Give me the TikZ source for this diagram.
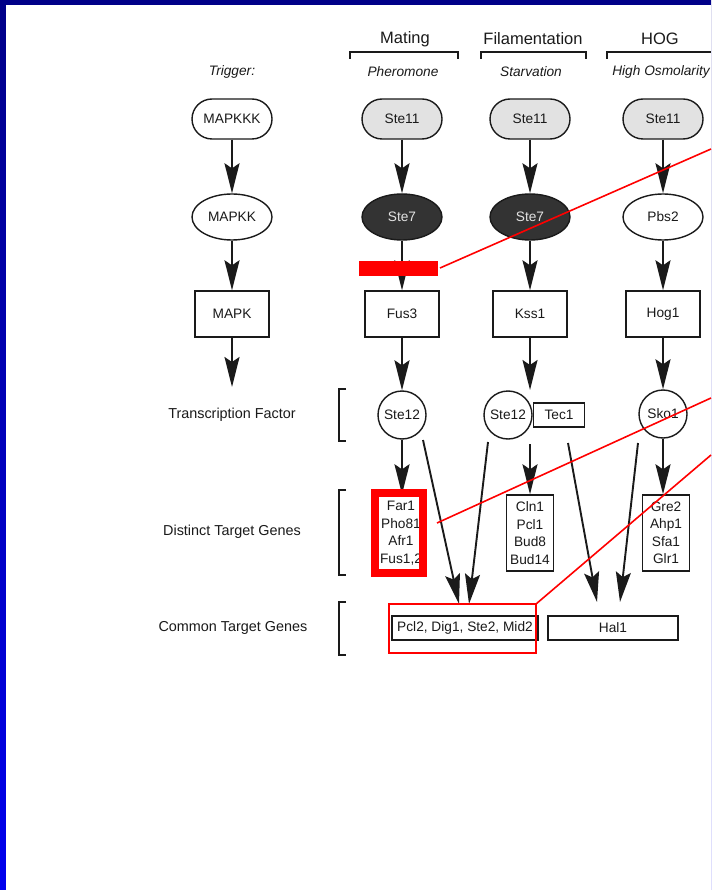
\documentclass[tikz,border=0pt]{standalone}
\usepackage{fontspec}
\setmainfont{Liberation Sans}
\usetikzlibrary{shapes.geometric,arrows.meta}
\definecolor{bordtop}{HTML}{000088}
\definecolor{bordbot}{HTML}{0000EE}
\definecolor{ink}{HTML}{1A1A1A}
\definecolor{lgray}{HTML}{E2E2E2}
\definecolor{dgray}{HTML}{333333}
\definecolor{redmark}{HTML}{FF0000}
\tikzset{
  hdr/.style={font=\fontsize{16.5}{19}\selectfont, text=ink, inner sep=0},
  trig/.style={font=\fontsize{13.7}{16}\selectfont\itshape, text=ink, inner sep=0},
  rowlab/.style={font=\fontsize{14.4}{16}\selectfont, text=ink, inner sep=0},
  nd/.style={draw=ink, line width=1.4pt, font=\fontsize{13.7}{16}\selectfont, text=ink, inner sep=0},
  stad/.style={nd, rectangle, rounded corners=20pt, minimum width=80pt, minimum height=40pt},
  ell/.style={nd, ellipse, minimum width=80pt, minimum height=46pt},
  kbox/.style={nd, rectangle, minimum width=74pt, minimum height=46pt},
  circ/.style={nd, circle, minimum size=48pt},
  gbox/.style={nd, rectangle, minimum width=47pt, minimum height=76pt, align=center, font=\fontsize{13.7}{17.5}\selectfont},
  wbox/.style={nd, rectangle, minimum height=24pt},
  arr/.style={draw=ink, line width=1.9pt, -{Stealth[length=30pt,width=15pt,inset=5pt]}},
  brk/.style={draw=ink, line width=1.6pt},
  redline/.style={draw=redmark, line width=1.6pt}
}
\begin{document}
\begin{tikzpicture}[x=1pt,y=-1pt]
\useasboundingbox (0,0) rectangle (711,890);
\shade[top color=bordtop, bottom color=bordbot] (0,0) rectangle (711,890);
\fill[white] (6,5) rectangle (711,890);

% headers
\node[hdr] (hmat) at (405,39) {Mating};
\node[hdr] (hfil) at (533,39) {Filamentation};
\node[hdr] (hhog) at (660,39) {HOG};
\draw[brk] (350,59) -- (350,52) -- (458,52) -- (458,59);
\draw[brk] (481,59) -- (481,52) -- (586,52) -- (586,59);
\draw[brk] (607,59) -- (607,52) -- (711,52);

\node[trig] (ttrig) at (232,72) {Trigger:};
\node[trig] (tmat) at (403,72) {Pheromone};
\node[trig] (tfil) at (531,72) {Starvation};
\node[trig] (thog) at (661,72) {High Osmolarity};

% MAPKKK row
\node[stad] (kkk0) at (232,119) {MAPKKK};
\node[stad, fill=lgray] (s11m) at (402,119) {Ste11};
\node[stad, fill=lgray] (s11f) at (530,119) {Ste11};
\node[stad, fill=lgray] (s11h) at (663,119) {Ste11};

% MAPKK row
\node[ell] (kk0) at (232,217) {MAPKK};
\node[ell, fill=dgray, text=lgray] (s7m) at (402,217) {Ste7};
\node[ell, fill=dgray, text=lgray] (s7f) at (530,217) {Ste7};
\node[ell] (pbs2) at (663,217) {Pbs2};

% MAPK row
\node[kbox] (k0) at (232,314) {MAPK};
\node[kbox] (fus3) at (402,314) {Fus3};
\node[kbox] (kss1) at (530,314) {Kss1};
\node[kbox] (hog1) at (663,314) {Hog1};

% transcription factors
\node[rowlab] (ltf) at (232,415) {Transcription Factor};
\node[circ] (ste12m) at (402,415) {Ste12};
\node[circ] (ste12f) at (508,415) {Ste12};
\node[nd, rectangle, minimum width=51pt, minimum height=24pt] (tec1) at (559,415) {Tec1};
\node[circ] (sko1) at (663,414) {Sko1};
\draw[brk] (346,389) -- (339,389) -- (339,441) -- (346,441);

% distinct target genes
\node[rowlab] (ldt) at (232,532) {Distinct Target Genes};
\node[gbox] (gm) at (401,533) {Far1\\Pho81\\Afr1\\Fus1,2};
\node[gbox] (gf) at (530,533) {Cln1\\Pcl1\\Bud8\\Bud14};
\node[gbox] (gh) at (666,533) {Gre2\\Ahp1\\Sfa1\\Glr1};
\draw[brk] (346,490) -- (339,490) -- (339,575) -- (346,575);

% common target genes
\node[rowlab] (lct) at (233,628) {Common Target Genes};
\node[wbox, minimum width=146pt] (common) at (465,628) {Pcl2, Dig1, Ste2, Mid2};
\node[wbox, minimum width=130pt] (hal1) at (613,628) {Hal1};
\draw[brk] (346,602) -- (339,602) -- (339,655) -- (346,655);

% free ends
\coordinate (kend) at (232,387);
\coordinate (fjn) at (530,390);
\coordinate (fjs) at (530,444);
\coordinate (am1) at (423,440);
\coordinate (am2) at (459,604);
\coordinate (af1) at (488,442);
\coordinate (af2) at (469,604);
\coordinate (at1) at (568,443);
\coordinate (at2) at (597,602);
\coordinate (ah1) at (638,443);
\coordinate (ah2) at (620,602);

% arrows
\draw[arr] (kkk0) -- (kk0);
\draw[arr] (kk0) -- (k0);
\draw[arr] (k0) -- (kend);
\draw[arr] (s11m) -- (s7m);
\draw[arr] (s7m) -- (fus3);
\draw[arr] (fus3) -- (ste12m);
\draw[arr] (ste12m) -- (ste12m |- gm.north);
\draw[arr] (s11f) -- (s7f);
\draw[arr] (s7f) -- (kss1);
\draw[arr] (kss1) -- (fjn);
\draw[arr] (fjs) -- (gf);
\draw[arr] (s11h) -- (pbs2);
\draw[arr] (pbs2) -- (hog1);
\draw[arr] (hog1) -- (sko1);
\draw[arr] (sko1) -- (sko1 |- gh.north);
\draw[arr] (am1) -- (am2);
\draw[arr] (af1) -- (af2);
\draw[arr] (at1) -- (at2);
\draw[arr] (ah1) -- (ah2);

% red annotations
\coordinate (r1a) at (440,268);
\coordinate (r1b) at (711,149);
\coordinate (r2a) at (437,523);
\coordinate (r2b) at (711,398);
\coordinate (r3a) at (536,604);
\coordinate (r3b) at (711,455);
\fill[redmark] (359,261) rectangle (438,276);
\draw[redline] (r1a) -- (r1b);
\draw[draw=redmark, line width=8pt] (375,493) rectangle (423,573);
\draw[redline] (r2a) -- (r2b);
\draw[draw=redmark, line width=2pt] (389,604) rectangle (536,653);
\draw[redline] (r3a) -- (r3b);
\end{tikzpicture}
\end{document}
